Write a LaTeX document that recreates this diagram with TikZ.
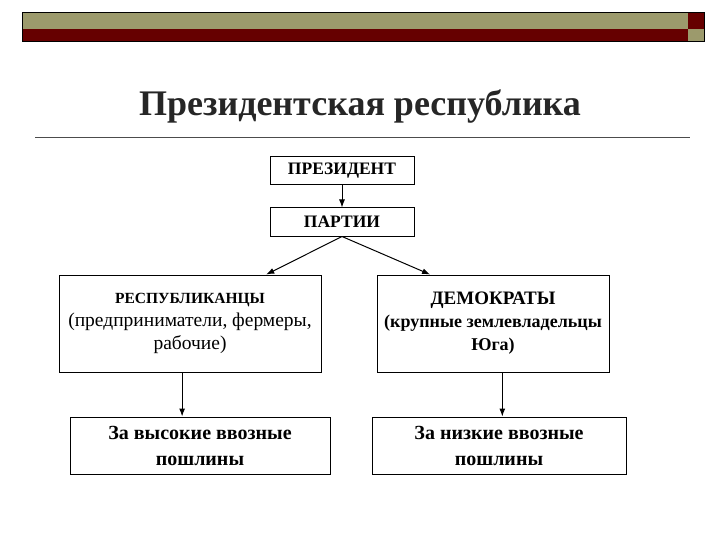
\documentclass[tikz,border=0pt]{standalone}
\usepackage{fontspec}
\setmainfont{Liberation Serif}
\usepackage{tikz}
\usetikzlibrary{calc}
\usetikzlibrary{arrows.meta}
\definecolor{olive}{HTML}{9C9A6C}
\definecolor{darkred}{HTML}{660000}

\begin{document}
\begin{tikzpicture}[x=1pt, y=-1pt,
  box/.style={draw, line width=1pt, inner sep=0pt, align=center},
  arr/.style={line width=1pt, -{Latex[length=8pt, width=6pt]}}]
\useasboundingbox (0,0) rectangle (720,540);

% header bar
\fill[olive] (22,12) rectangle (688,29.5);
\fill[darkred] (22,29.5) rectangle (688,41);
\fill[darkred] (688,12) rectangle (704,29.5);
\fill[olive] (688,29.5) rectangle (704,41);
\draw[line width=0.8pt] (22,12) rectangle (704,41);

% title
\node[font=\fontsize{36}{40}\selectfont\bfseries, text=black!85] (title) at (360,107) {Президентская республика};
\draw[line width=0.6pt, black!70] (35,137) -- (690,137);

% boxes
\node[box, minimum width=144, minimum height=28, font=\fontsize{17.5}{20}\selectfont\bfseries] (pres) at (342,171) {ПРЕЗИДЕНТ};
\node[box, minimum width=144, minimum height=28, font=\fontsize{17.5}{20}\selectfont\bfseries] (party) at (342,222) {ПАРТИИ};
\node[box, minimum width=262, minimum height=97, font=\fontsize{19.5}{23}\selectfont] (rep) at (190,323.5)
  {{\fontsize{15.5}{23}\selectfont\bfseries РЕСПУБЛИКАНЦЫ}\\(предприниматели, фермеры,\\рабочие)};
\node[box, minimum width=232, minimum height=97, font=\fontsize{18}{23}\selectfont\bfseries] (dem) at (493,323.5)
  {{\fontsize{19}{23}\selectfont ДЕМОКРАТЫ}\\(крупные землевладельцы\\Юга)};
\node[box, minimum width=260, minimum height=57, font=\fontsize{20}{26}\selectfont\bfseries] (high) at (200,445.5)
  {За высокие ввозные\\пошлины};
\node[box, minimum width=254, minimum height=57, font=\fontsize{20}{26}\selectfont\bfseries] (low) at (499,445.5)
  {За низкие ввозные\\пошлины};

% arrows
\draw[arr] (pres) -- (party);
\draw[arr] (party.south) -- ($(rep.north west)!0.79!(rep.north east)$);
\draw[arr] (party.south) -- ($(dem.north west)!0.23!(dem.north east)$);
\draw[arr] ($(rep.south west)!0.47!(rep.south east)$) coordinate (r0) -- (r0 |- high.north);
\draw[arr] ($(dem.south west)!0.54!(dem.south east)$) coordinate (d0) -- (d0 |- low.north);

\end{tikzpicture}
\end{document}
